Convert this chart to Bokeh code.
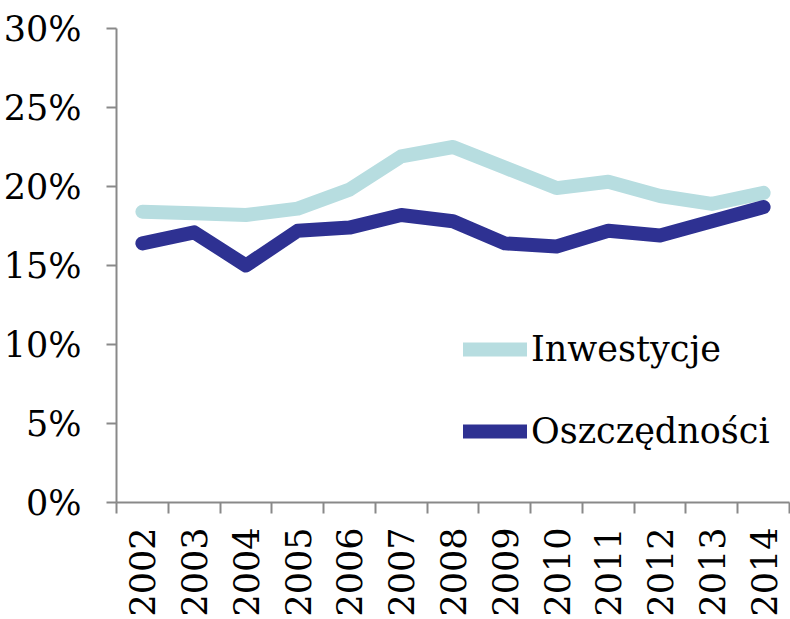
import math
from bokeh.plotting import figure
from bokeh.models import FixedTicker, PrintfTickFormatter, Legend, LegendItem, Range1d
from bokeh.embed import file_html
from bokeh.resources import INLINE

years = ["2002", "2003", "2004", "2005", "2006", "2007", "2008",
         "2009", "2010", "2011", "2012", "2013", "2014"]
inwestycje = [18.4, 18.3, 18.2, 18.6, 19.8, 21.9, 22.5, 21.2, 19.9, 20.3, 19.4, 18.9, 19.6]
oszczednosci = [16.4, 17.1, 15.0, 17.2, 17.4, 18.2, 17.8, 16.4, 16.2, 17.2, 16.9, 17.8, 18.7]
y_ticks = [0, 5, 10, 15, 20, 25, 30]

xs = [i + 0.5 for i in range(len(years))]
bounds = list(range(len(years) + 1))

FONT = "DejaVu Serif"
AXIS_COLOR = "#898989"

p = figure(width=790, height=619, output_backend="svg", toolbar_location=None,
           x_range=Range1d(0, len(years)), y_range=Range1d(0, 30),
           min_border_left=116, min_border_right=1, min_border_top=28, min_border_bottom=116)
p.outline_line_color = None
p.xgrid.visible = False
p.ygrid.visible = False

r1 = p.line(xs, inwestycje, line_color="#B7DDE0", line_width=14,
            line_cap="round", line_join="round")
r2 = p.line(xs, oszczednosci, line_color="#2E3192", line_width=14,
            line_cap="round", line_join="round")

xa = p.xaxis[0]
xa.ticker = FixedTicker(ticks=xs, minor_ticks=bounds)
xa.major_label_overrides = {x: y for x, y in zip(xs, years)}
xa.major_tick_line_color = None
xa.major_tick_out = 0
xa.major_tick_in = 0
xa.minor_tick_out = 11
xa.minor_tick_in = 0
xa.minor_tick_line_color = AXIS_COLOR
xa.minor_tick_line_width = 2
xa.major_label_orientation = math.pi / 2
xa.major_label_standoff = 14

ya = p.yaxis[0]
ya.ticker = FixedTicker(ticks=y_ticks, minor_ticks=[])
ya.formatter = PrintfTickFormatter(format="%d%%")
ya.major_tick_out = 10
ya.major_tick_in = 0
ya.major_tick_line_color = AXIS_COLOR
ya.major_tick_line_width = 2
ya.minor_tick_line_color = None
ya.major_label_standoff = 25

for ax in (xa, ya):
    ax.axis_line_color = AXIS_COLOR
    ax.axis_line_width = 2
    ax.major_label_text_font = FONT
    ax.major_label_text_font_size = "35px"
    ax.major_label_text_color = "black"

legend = Legend(items=[LegendItem(label="Inwestycje", renderers=[r1]),
                       LegendItem(label="Oszczędności", renderers=[r2])],
                location=(347, 51))
legend.label_text_font = FONT
legend.label_text_font_size = "35px"
legend.label_text_color = "black"
legend.glyph_width = 64
legend.glyph_height = 40
legend.label_height = 40
legend.spacing = 42
legend.label_standoff = 4
legend.padding = 0
legend.margin = 0
legend.border_line_color = None
legend.background_fill_alpha = 0
p.add_layout(legend)

open("out.html", "w").write(file_html(p, INLINE))
